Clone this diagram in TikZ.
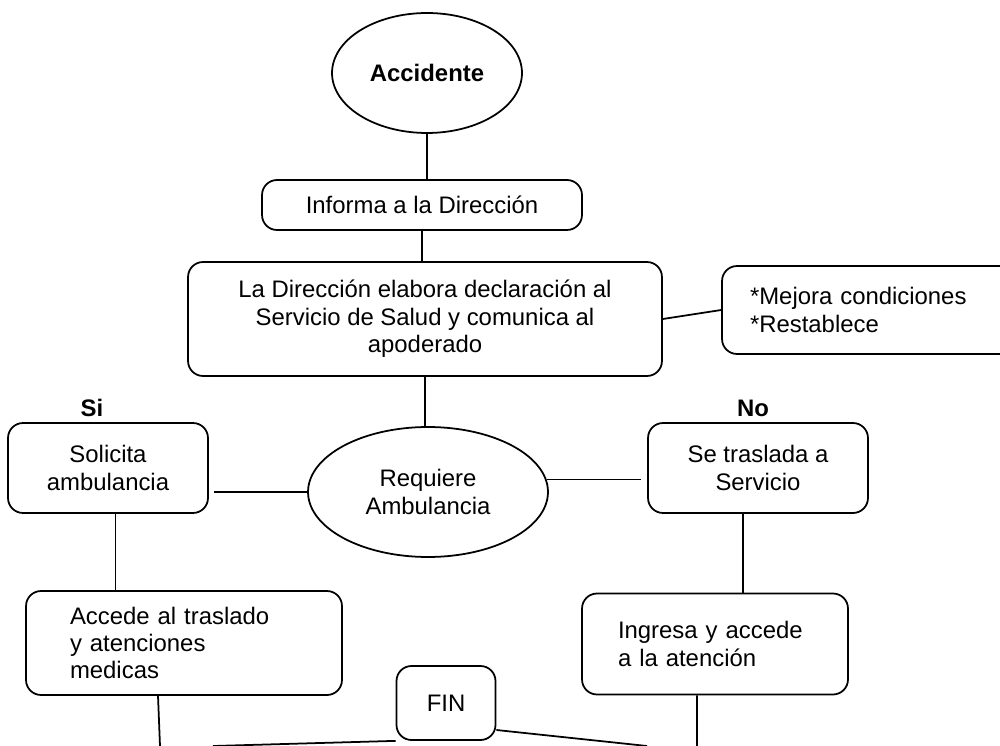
\documentclass[tikz,border=0pt]{standalone}
\usepackage{fontspec}
\setmainfont{Liberation Sans}
\usetikzlibrary{shapes.geometric}
\newcommand{\normtxt}{\fontsize{13.6}{15.6}\selectfont}
\begin{document}
\begin{tikzpicture}[x=0.02cm, y=-0.02cm, line width=1pt,
  box/.style={draw, rounded corners=0.3cm, font=\normtxt, align=center},
  oval/.style={draw, ellipse, font=\normtxt, align=center}]
\useasboundingbox (0,0) rectangle (1000,746);
\clip (0,0) rectangle (1000,746);
% nodes
\node[oval, minimum width=3.8cm, minimum height=2.4cm, font=\normtxt\bfseries] (acc) at (427,73) {Accidente};
\node[box, minimum width=6.4cm, minimum height=1cm] (inf) at (422,205) {Informa a la Dirección};
\node[box, minimum width=9.48cm, minimum height=2.28cm] (decl) at (425,319) {La Dirección elabora declaración al\\Servicio de Salud y comunica al\\apoderado};
\node[box, align=left, text width=5.68cm, inner xsep=0.56cm, minimum height=1.76cm] (mej) at (892,310) {*Mejora condiciones\\{}*Restablece};
\node[oval, minimum width=4.8cm, minimum height=2.6cm] (req) at (428,492) {Requiere\\Ambulancia};
\node[box, minimum width=4cm, minimum height=1.8cm] (sol) at (108,468) {Solicita\\ambulancia};
\node[box, minimum width=4.4cm, minimum height=1.8cm] (tras) at (758,468) {Se traslada a\\Servicio};
\node[font=\normtxt\bfseries] (si) at (92,408) {Si};
\node[font=\normtxt\bfseries] (no) at (753,408) {No};
\node[box, align=left, text width=4.56cm, inner xsep=0.88cm, minimum height=2.08cm] (acd) at (184,643) {Accede al traslado\\y atenciones\\medicas};
\node[box, align=left, text width=3.88cm, inner xsep=0.72cm, minimum height=2.02cm] (ing) at (715,644) {Ingresa y accede\\a la atención};
\node[box, minimum width=1.98cm, minimum height=1.48cm] (fin) at (446,703) {FIN};
% free ends at the lower edge
\coordinate (acdB) at (160,746);
\coordinate (ingB) at (697,746);
\coordinate (finL) at (213,746);
\coordinate (finR) at (647,746);
\path ([xshift=0.15cm]sol.south) coordinate (solB);
\path ([xshift=-0.3cm]tras.south) coordinate (trasB);
% connectors
\draw (acc.south) -- (acc.south |- inf.north);
\draw (inf.south) -- (inf.south |- decl.north);
\draw (decl.east) -- (mej.west);
\draw (decl.south) -- (decl.south |- req.north);
\draw[shorten >=0.1cm] (req.west) -- (req.west -| sol.east);
\draw[shorten >=0.12cm] (req.6) -- (req.6 -| tras.west);
\draw (solB) -- (solB |- acd.north);
\draw (trasB) -- (trasB |- ing.north);
\draw ([xshift=-0.52cm]acd.south) -- (acdB);
\draw ([xshift=-0.36cm]ing.south) -- (ingB);
\draw (fin.south west) -- (finL);
\draw ([yshift=-0.54cm]fin.east) -- (finR);
\end{tikzpicture}
\end{document}
